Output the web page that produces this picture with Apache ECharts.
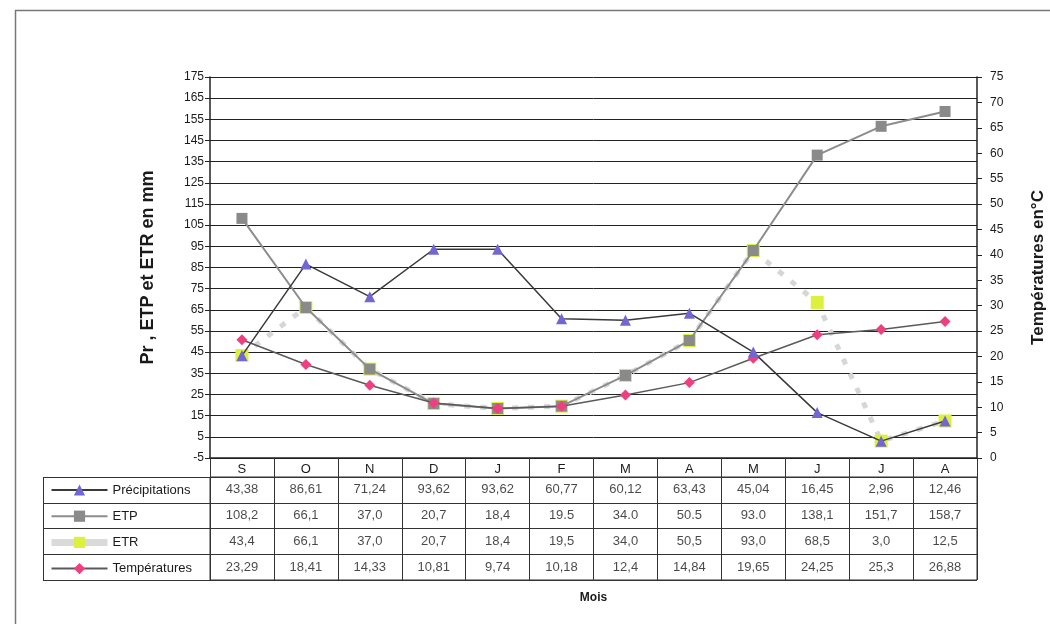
<!DOCTYPE html>
<html>
<head>
<meta charset="utf-8">
<script src="https://cdn.jsdelivr.net/npm/echarts@6/dist/echarts.min.js"></script>
<style>
  html, body { margin: 0; padding: 0; background: #fff; }
  #chart { width: 1050px; height: 624px; }
</style>
</head>
<body>
<div id="chart"></div>
<script>
// Monthly water balance: September to August
const months = ['S', 'O', 'N', 'D', 'J', 'F', 'M', 'A', 'M', 'J', 'J', 'A'];
const precipitations = [43.38, 86.61, 71.24, 93.62, 93.62, 60.77, 60.12, 63.43, 45.04, 16.45, 2.96, 12.46];
const etp = [108.2, 66.1, 37.0, 20.7, 18.4, 19.5, 34.0, 50.5, 93.0, 138.1, 151.7, 158.7];
const etr = [43.4, 66.1, 37.0, 20.7, 18.4, 19.5, 34.0, 50.5, 93.0, 68.5, 3.0, 12.5];
const temperatures = [23.29, 18.41, 14.33, 10.81, 9.74, 10.18, 12.4, 14.84, 19.65, 24.25, 25.3, 26.88];

// Axis ranges
const mmMin = -5, mmMax = 175, mmStep = 10;
const tMin = 0, tMax = 75, tStep = 5;

// Cells of the ETP row that were typed with a decimal point
const etpDotCells = [5, 6, 7, 8];

const comma = v => String(v).replace('.', ',');
const oneDec = v => v.toFixed(1).replace('.', ',');

const rows = [
  { name: 'Précipitations', values: precipitations, fmt: comma },
  { name: 'ETP', values: etp, fmt: (v, i) => etpDotCells.includes(i) ? v.toFixed(1) : oneDec(v) },
  { name: 'ETR', values: etr, fmt: oneDec },
  { name: 'Températures', values: temperatures, fmt: comma }
];

// Layout
const L = 210, R = 73, TOP = 77, PLOT_BOTTOM = 458;
const TABLE_TOP = 477, TABLE_BOTTOM = 580, KEY_LEFT = 43;
const W = 1050, H = 624;

const txt = '#1a1a1a';
const font = 'Arial, "Liberation Sans", sans-serif';

const chart = echarts.init(document.getElementById('chart'), null, { renderer: 'canvas' });

const tableSeries = rows.map((r, ri) => ({
  name: 'table-' + ri,
  type: 'scatter',
  xAxisIndex: 1,
  yAxisIndex: 2,
  symbolSize: 0,
  silent: true,
  data: r.values.map((v, i) => [i, ri, r.fmt(v, i)]),
  label: {
    show: true,
    position: 'inside',
    formatter: p => p.data[2],
    color: txt,
    fontSize: 13,
    fontFamily: font
  }
}));

const option = {
  backgroundColor: '#fff',
  animation: false,
  textStyle: { fontFamily: font },
  grid: [
    { left: L, right: R, top: TOP, bottom: H - PLOT_BOTTOM, containLabel: false, outerBoundsMode: 'none' },
    { left: L, right: R, top: TABLE_TOP, height: TABLE_BOTTOM - TABLE_TOP, show: true,
      borderColor: '#333', borderWidth: 1, containLabel: false, outerBoundsMode: 'none' }
  ],
  legend: {
    orient: 'vertical',
    left: 48,
    top: 483,
    itemWidth: 56,
    itemHeight: 14,
    itemGap: 12.2,
    padding: 0,
    data: rows.map(r => r.name === 'ETR'
      ? { name: r.name, lineStyle: { type: 'solid', width: 7, color: '#dadada' } }
      : r.name),
    textStyle: { color: txt, fontSize: 13, fontFamily: font, lineHeight: 14 },
    selectedMode: false
  },
  xAxis: [
    {
      type: 'category',
      gridIndex: 0,
      data: months,
      boundaryGap: true,
      axisLine: { show: true, onZero: false, lineStyle: { color: '#222', width: 1.5 } },
      axisTick: { show: true, length: TABLE_TOP - PLOT_BOTTOM, lineStyle: { color: '#333' } },
      axisLabel: { show: true, interval: 0, margin: 5, color: txt, fontSize: 13, fontFamily: font },
      splitLine: { show: false }
    },
    {
      type: 'category',
      gridIndex: 1,
      data: months,
      boundaryGap: true,
      axisLine: { show: false },
      axisTick: { show: false },
      axisLabel: { show: false },
      splitLine: { show: true, interval: 0, lineStyle: { color: '#333', width: 1 } },
      name: 'Mois',
      nameLocation: 'middle',
      nameGap: 12,
      nameTextStyle: { color: txt, fontSize: 12, fontWeight: 'bold', fontFamily: font }
    }
  ],
  yAxis: [
    {
      type: 'value',
      gridIndex: 0,
      min: mmMin,
      max: mmMax,
      interval: mmStep,
      name: 'Pr , ETP et ETR en mm',
      nameLocation: 'middle',
      nameGap: 53,
      nameRotate: 90,
      nameTextStyle: { color: txt, fontSize: 18, fontWeight: 'bold', fontFamily: font },
      axisLine: { show: true, lineStyle: { color: '#222', width: 1.5 } },
      axisTick: { show: true, length: 5, lineStyle: { color: '#222' } },
      axisLabel: { color: txt, fontSize: 12, margin: 6, fontFamily: font },
      splitLine: { show: true, lineStyle: { color: '#222', width: 1 } }
    },
    {
      type: 'value',
      gridIndex: 0,
      position: 'right',
      min: tMin,
      max: tMax,
      interval: tStep,
      name: 'Températures en°C',
      nameLocation: 'middle',
      nameGap: 53,
      nameRotate: 90,
      nameTextStyle: { color: txt, fontSize: 17, fontWeight: 'bold', fontFamily: font },
      axisLine: { show: true, lineStyle: { color: '#222', width: 1.5 } },
      axisTick: { show: true, length: 5, lineStyle: { color: '#222' } },
      axisLabel: { color: txt, fontSize: 12, margin: 13, fontFamily: font },
      splitLine: { show: false }
    },
    {
      type: 'category',
      gridIndex: 1,
      inverse: true,
      data: rows.map(r => r.name),
      boundaryGap: true,
      axisLine: { show: false },
      axisTick: { show: true, length: L - KEY_LEFT, lineStyle: { color: '#333' } },
      axisLabel: { show: false },
      splitLine: { show: true, interval: 0, lineStyle: { color: '#333', width: 1 } }
    }
  ],
  graphic: [
    // outer frame
    { type: 'line', shape: { x1: 15, y1: 10.5, x2: W, y2: 10.5 }, style: { stroke: '#777', lineWidth: 1.5 }, silent: true },
    { type: 'line', shape: { x1: 15.5, y1: 10, x2: 15.5, y2: H }, style: { stroke: '#777', lineWidth: 1.5 }, silent: true },
    // key column border
    { type: 'line', shape: { x1: KEY_LEFT + 0.5, y1: TABLE_TOP, x2: KEY_LEFT + 0.5, y2: TABLE_BOTTOM }, style: { stroke: '#333', lineWidth: 1 }, silent: true }
  ],
  series: [
    {
      name: 'ETR',
      type: 'line',
      xAxisIndex: 0, yAxisIndex: 0,
      data: etr,
      z: 2,
      symbol: 'rect',
      symbolSize: 13,
      itemStyle: { color: '#def03e' },
      lineStyle: { color: '#d6d6d6', width: 5, type: [6, 10] }
    },
    {
      name: 'ETP',
      type: 'line',
      xAxisIndex: 0, yAxisIndex: 0,
      data: etp,
      z: 3,
      symbol: 'rect',
      symbolSize: 11,
      itemStyle: { color: '#8a8a8a' },
      lineStyle: { color: '#8c8c8c', width: 2 }
    },
    {
      name: 'Températures',
      type: 'line',
      xAxisIndex: 0, yAxisIndex: 1,
      data: temperatures,
      z: 4,
      symbol: 'diamond',
      symbolSize: 11,
      itemStyle: { color: '#ee3f80' },
      lineStyle: { color: '#5a5a5a', width: 1.5 }
    },
    {
      name: 'Précipitations',
      type: 'line',
      xAxisIndex: 0, yAxisIndex: 0,
      data: precipitations,
      z: 5,
      symbol: 'triangle',
      symbolSize: 11,
      itemStyle: { color: '#7066d4' },
      lineStyle: { color: '#3a3a3a', width: 1.5 }
    },
    ...tableSeries
  ]
};

chart.setOption(option);
</script>
</body>
</html>
